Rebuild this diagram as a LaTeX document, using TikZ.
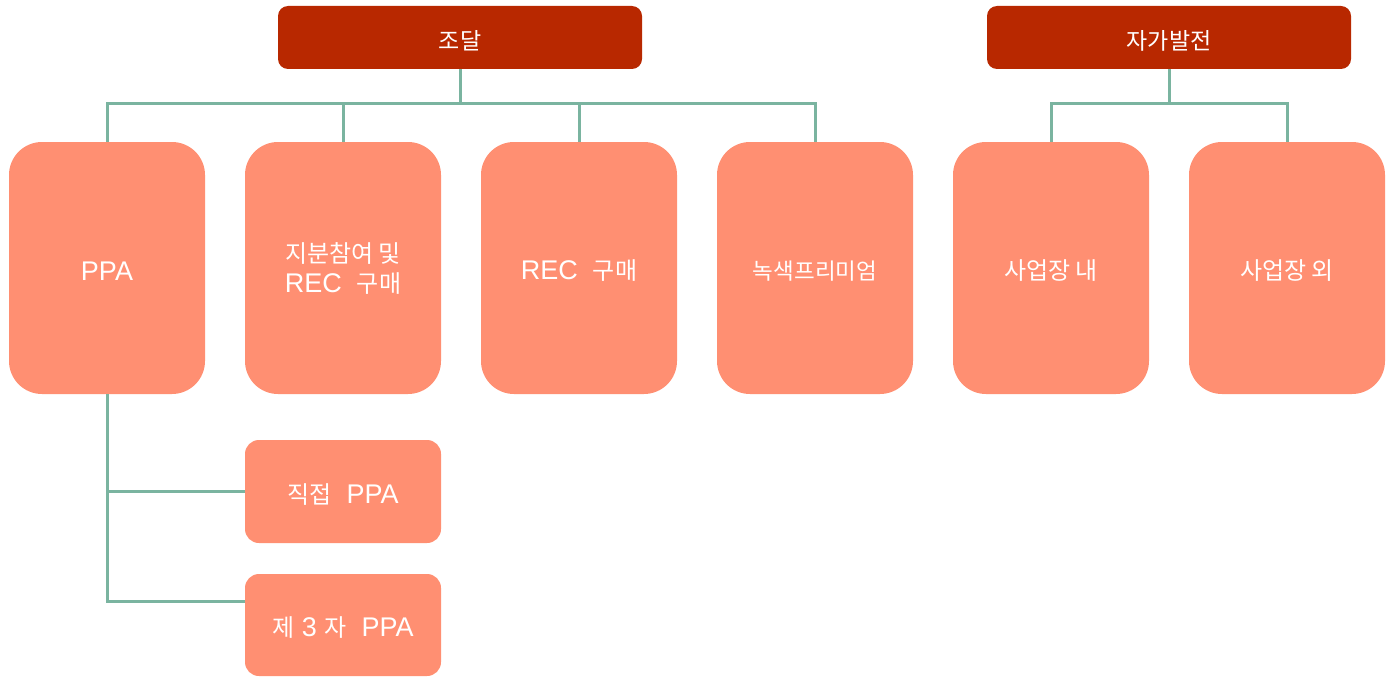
\documentclass[tikz,border=0pt]{standalone}
\usepackage{fontspec}
\setmainfont{Liberation Sans}
\newfontfamily\kr{Noto Sans CJK KR}
\definecolor{topred}{RGB}{184,40,0}
\definecolor{salmon}{RGB}{255,143,114}
\definecolor{conncol}{RGB}{122,180,160}
\newcommand\dn[1]{\raisebox{-3pt}[\height][\depth]{#1}}
\newcommand\kb[1]{{\kr\fontsize{24}{30}\selectfont #1}}
\begin{document}
\begin{tikzpicture}[x=1pt,y=-1pt,
  topbox/.style={fill=topred,draw=none,rounded corners=10pt,minimum width=364pt,minimum height=63pt,inner sep=0pt,text=white,font=\fontsize{23}{29}\selectfont\kr},
  bigbox/.style={fill=salmon,draw=none,rounded corners=33pt,minimum width=196pt,minimum height=252pt,inner sep=0pt,text=white,align=center,font=\fontsize{27}{30}\selectfont},
  smallbox/.style={fill=salmon,draw=none,rounded corners=14pt,minimum width=196pt,minimum height=103pt,inner sep=0pt,text=white,font=\fontsize{27}{30}\selectfont},
  conn/.style={draw=conncol,line width=3pt}]
\useasboundingbox (0,0) rectangle (1393,677);
\node[topbox] (jd) at (460,37.5) {\dn{조달}};
\node[topbox] (jg) at (1169,37.5) {\dn{자가발전}};
\node[bigbox] (ppa) at (107,268) {\dn{PPA}};
\node[bigbox] (jb) at (343,268) {\dn{\begin{tabular}{@{}c@{}}\kb{지분참여 및}\\REC\ \ \kb{구매}\end{tabular}}};
\node[bigbox] (rec) at (579,268) {\dn{REC\ \ \kb{구매}}};
\node[bigbox] (gp) at (815,268) {\dn{\kr\fontsize{22.5}{26}\selectfont 녹색프리미엄}};
\node[bigbox] (in) at (1051,268) {\dn{\kb{사업장 내}}};
\node[bigbox] (out) at (1287,268) {\dn{\kb{사업장 외}}};
\node[smallbox] (d1) at (343,491.5) {\dn{\kb{직접}\ \ PPA}};
\node[smallbox,minimum height=102pt] (d3) at (343,625) {\dn{\kb{제} 3 \kb{자}\ \ PPA}};
\foreach \c in {ppa,jb,rec,gp} {\draw[conn] (jd.south) -- ++(0,34) -| (\c.north);}
\foreach \c in {in,out} {\draw[conn] (jg.south) -- ++(0,34) -| (\c.north);}
\draw[conn] (ppa.south) |- (d1.west);
\draw[conn] (ppa.south) |- ([yshift=24pt]d3.west);
\end{tikzpicture}
\end{document}
